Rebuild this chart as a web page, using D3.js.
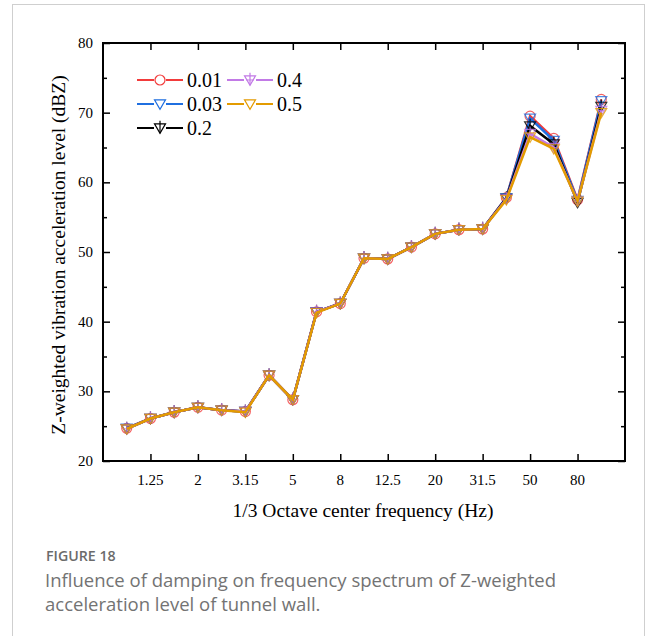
<!DOCTYPE html>
<html>
<head>
<meta charset="utf-8">
<script src="https://cdn.jsdelivr.net/npm/d3@7"></script>
<style>
  body { margin: 0; background: #fff; }
  svg { display: block; }
  .lbl { font-family: "Liberation Serif", "Times New Roman", serif; font-size: 15px; fill: #000; }
</style>
</head>
<body>
<div id="vis"></div>
<script>
// 1/3 octave centre frequencies (Hz)
const freqs = ['1', '1.25', '1.6', '2', '2.5', '3.15', '4', '5', '6.3', '8', '10',
  '12.5', '16', '20', '25', '31.5', '40', '50', '63', '80', '100'];
const tickLabels = ['1.25', '2', '3.15', '5', '8', '12.5', '20', '31.5', '50', '80'];

// damping ratios
const dampings = ['0.01', '0.03', '0.2', '0.4', '0.5'];

// Z-weighted acceleration level (dBZ)
const d001 = [24.7, 26.1, 27.0, 27.7, 27.3, 27.1, 32.3, 28.8, 41.4, 42.6, 49.1,
  49.0, 50.7, 52.6, 53.2, 53.3, 57.8, 69.5, 66.3, 57.5, 71.9];
const d003 = [24.7, 26.1, 27.0, 27.7, 27.3, 27.1, 32.3, 28.8, 41.4, 42.6, 49.1,
  49.0, 50.7, 52.6, 53.2, 53.3, 57.8, 69.2, 66.0, 57.4, 71.7];
const d02 = [24.6, 26.1, 27.0, 27.7, 27.3, 27.1, 32.3, 28.8, 41.4, 42.6, 49.1,
  49.0, 50.7, 52.6, 53.2, 53.3, 57.7, 68.1, 65.5, 57.1, 70.9];
const d04 = [24.6, 26.1, 27.0, 27.7, 27.3, 27.1, 32.3, 28.8, 41.4, 42.6, 49.1,
  49.0, 50.7, 52.6, 53.2, 53.3, 57.6, 67.0, 65.0, 57.3, 70.3];
const d05 = [24.6, 26.1, 27.0, 27.7, 27.3, 27.0, 32.3, 28.8, 41.3, 42.6, 49.1,
  49.0, 50.7, 52.6, 53.2, 53.3, 57.5, 66.5, 64.8, 57.3, 70.0];

const seriesValues = [d001, d003, d02, d04, d05];
const colors = ['#f23b3b', '#1f6fe0', '#000000', '#c27ae6', '#e39b00'];
const markers = ['circle', 'tri', 'triStem', 'triPlus', 'tri'];

const width = 656, height = 636;
const margin = { left: 103, right: 34, top: 43, bottom: 175 };

const svg = d3.select('#vis').append('svg')
  .attr('width', width)
  .attr('height', height);

// light outer frame of the figure panel
svg.append('rect')
  .attr('x', 12.5).attr('y', 4.5)
  .attr('width', 632).attr('height', 650)
  .attr('fill', 'none')
  .attr('stroke', '#cfcfcf')
  .attr('stroke-width', 1);

const x = d3.scalePoint()
  .domain(freqs)
  .range([margin.left, width - margin.right + 3])
  .padding(1);

const y = d3.scaleLinear()
  .domain([20, 80])
  .range([height - margin.bottom, margin.top]);

const x0 = x.range()[0], x1 = x.range()[1];
const y0 = y.range()[0], y1 = y.range()[1];

const serif = '"Liberation Serif", "Times New Roman", serif';

// tick lines only; labels are written separately below
function styleAxis(g) {
  g.select('.domain').remove();
  g.selectAll('text').remove();
  g.selectAll('line').attr('stroke', '#000').attr('stroke-width', 1.5);
}

// axes (ticks pointing inward, like Origin)
svg.append('g')
  .attr('transform', `translate(0,${y0})`)
  .call(d3.axisBottom(x).tickValues(tickLabels).tickSizeInner(-7).tickSizeOuter(0))
  .call(styleAxis);

svg.append('g')
  .attr('transform', `translate(0,${y1})`)
  .call(d3.axisTop(x).tickValues(tickLabels).tickSizeInner(-7).tickSizeOuter(0))
  .call(styleAxis);

const yMajor = d3.range(20, 81, 10);
const yMinor = d3.range(25, 80, 10);

[x0, x1].forEach((xp, side) => {
  const mk = side === 0 ? d3.axisLeft : d3.axisRight;
  svg.append('g')
    .attr('transform', `translate(${xp},0)`)
    .call(mk(y).tickValues(yMajor).tickSizeInner(-7).tickSizeOuter(0))
    .call(styleAxis);
  svg.append('g')
    .attr('transform', `translate(${xp},0)`)
    .call(mk(y).tickValues(yMinor).tickSizeInner(-4).tickSizeOuter(0))
    .call(styleAxis);
});

// tick labels
svg.selectAll('.xlbl')
  .data(tickLabels)
  .enter().append('text')
  .attr('class', 'lbl xlbl')
  .attr('x', d => x(d))
  .attr('y', y0 + 24)
  .attr('text-anchor', 'middle')
  .text(d => d);

svg.selectAll('.ylbl')
  .data(yMajor)
  .enter().append('text')
  .attr('class', 'lbl ylbl')
  .attr('x', x0 - 10)
  .attr('y', d => y(d) + 5)
  .attr('text-anchor', 'end')
  .text(d => d);

// plot frame
svg.append('rect')
  .attr('x', x0).attr('y', y1)
  .attr('width', x1 - x0).attr('height', y0 - y1)
  .attr('fill', 'none')
  .attr('stroke', '#000')
  .attr('stroke-width', 2);

// axis titles
svg.append('text')
  .attr('x', (x0 + x1) / 2 - 1)
  .attr('y', 517)
  .attr('text-anchor', 'middle')
  .style('font-family', serif)
  .style('font-size', '19.5px')
  .text('1/3 Octave center frequency (Hz)');

svg.append('text')
  .attr('transform', `translate(65,${(y0 + y1) / 2 + 3}) rotate(-90)`)
  .attr('text-anchor', 'middle')
  .style('font-family', serif)
  .style('font-size', '19.5px')
  .text('Z-weighted vibration acceleration level (dBZ)');

// marker drawing helper
function drawMarker(g, type, color) {
  const s = 5.5;
  if (type === 'circle') {
    g.append('circle').attr('r', 5).attr('fill', 'none')
      .attr('stroke', color).attr('stroke-width', 1.2);
    return;
  }
  g.append('path')
    .attr('d', `M${-s},${-s * 0.75}L${s},${-s * 0.75}L0,${s * 0.95}Z`)
    .attr('fill', 'none').attr('stroke', color).attr('stroke-width', 1.2);
  if (type === 'triStem') {
    g.append('path').attr('d', `M0,${-s * 1.3}L0,${s * 0.95}`)
      .attr('stroke', color).attr('stroke-width', 1.2);
  }
  if (type === 'triPlus') {
    g.append('path').attr('d', `M0,${-s * 1.3}L0,${s * 0.95}M${-s * 0.7},0L${s * 0.7},0`)
      .attr('stroke', color).attr('stroke-width', 1.2);
  }
}

const line = d3.line()
  .x((d, i) => x(freqs[i]))
  .y(d => y(d));

seriesValues.forEach((vals, k) => {
  const g = svg.append('g').attr('class', 'series');
  g.append('path')
    .datum(vals)
    .attr('d', line)
    .attr('fill', 'none')
    .attr('stroke', colors[k])
    .attr('stroke-width', 2.5);
  g.selectAll('.mk')
    .data(vals)
    .enter().append('g')
    .attr('class', 'mk')
    .attr('opacity', 0.8)
    .attr('transform', (d, i) => `translate(${x(freqs[i])},${y(d)})`)
    .each(function () { drawMarker(d3.select(this), markers[k], colors[k]); });
});

// legend: two columns
const legendPos = [[137, 80], [137, 104], [137, 128], [227, 80], [227, 104]];
dampings.forEach((name, k) => {
  const [lx, ly] = legendPos[k];
  const g = svg.append('g').attr('transform', `translate(${lx},${ly})`);
  g.append('line').attr('x1', 0).attr('x2', 46).attr('y1', 0).attr('y2', 0)
    .attr('stroke', colors[k]).attr('stroke-width', 2);
  const m = g.append('g').attr('transform', 'translate(23,0)');
  m.append('rect').attr('x', -6).attr('y', -7).attr('width', 12).attr('height', 14).attr('fill', '#fff');
  drawMarker(m, markers[k], colors[k]);
  g.append('text')
    .attr('x', 50).attr('y', 6.5)
    .style('font-family', serif)
    .style('font-size', '20px')
    .text(name);
});

// caption
svg.append('text')
  .attr('x', 46).attr('y', 561)
  .style('font-family', '"Open Sans", sans-serif')
  .style('font-size', '14.2px')
  .style('font-weight', 600)
  .attr('fill', '#6b6b6b')
  .text('FIGURE 18');

const caption = ['Influence of damping on frequency spectrum of Z-weighted',
  'acceleration level of tunnel wall.'];
svg.selectAll('.cap')
  .data(caption)
  .enter().append('text')
  .attr('class', 'cap')
  .attr('x', 45)
  .attr('y', (d, i) => 587 + i * 24)
  .style('font-family', '"Open Sans", sans-serif')
  .style('font-size', '18.5px')
  .style('font-weight', 400)
  .attr('fill', '#737373')
  .text(d => d);
</script>
</body>
</html>
